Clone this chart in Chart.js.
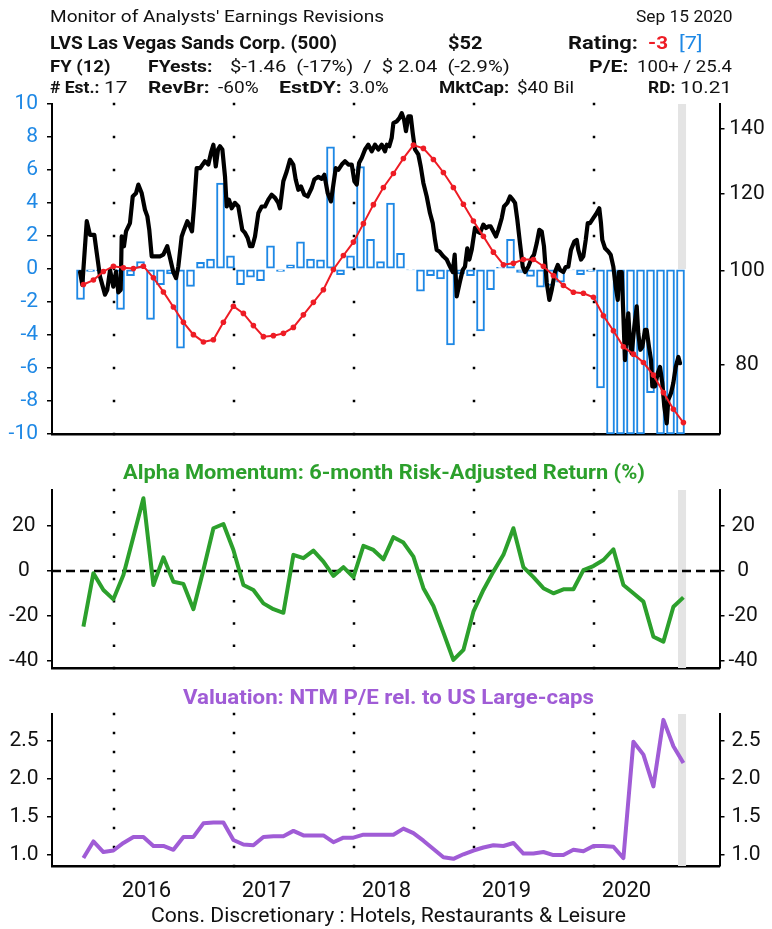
<!DOCTYPE html>
<html>
<head>
<meta charset="utf-8">
<script src="https://cdn.jsdelivr.net/npm/chart.js@4.4.1/dist/chart.umd.min.js"></script>
<style>
  html,body{margin:0;padding:0;background:#fff;}
  body{width:772px;height:929px;position:relative;overflow:hidden;font-family:Roboto,sans-serif;}
  canvas{position:absolute;left:0;top:0;}
  .t{position:absolute;white-space:pre;transform-origin:0 50%;}
</style>
</head>
<body>
<canvas id="c1" width="772" height="929"></canvas>
<canvas id="c2" width="772" height="929"></canvas>
<canvas id="c3" width="772" height="929"></canvas>
<script>
// ---------------- DATA ----------------
const firstYear = 2015, firstMonth = 9, monthCount = 61;   // Sep 2015 .. Sep 2020
const yearLines = [2016, 2017, 2018, 2019, 2020];
const yearTickPos = [2016.27, 2017.27, 2018.27, 2019.27, 2020.27];
const yearTickLabels = ['2016', '2017', '2018', '2019', '2020'];
const bandStart = 2020.70, bandEnd = 2020.767;

// monthly earnings revisions (blue bars, left axis)
const revisions = [-1.85,-0.15,-0.1,0,-2.45,-0.4,0.45,-3.05,-0.95,-0.3,
  -4.8,-1.05,0.4,0.6,5.2,0.8,-0.95,-0.5,-0.7,1.4,
  -0.15,0.25,1.65,0.6,0.55,7.4,-0.35,0.8,6.2,1.8,
  0.45,4.0,0.95,-0.05,-1.35,-0.4,-0.6,-4.6,-0.3,-0.4,
  -3.75,-1.25,0.1,1.8,-0.2,-0.45,-1.1,-1.0,-0.8,-0.05,
  -0.35,-0.15,-7.2,-10,-10,-10,-10,-7.5,-10,-10,-10];
// smoothed revision trend (red, left axis)
const revTrend = [-0.94,-0.67,-0.15,0.17,0.07,0.03,0.17,-0.53,-1.39,-2.30,
  -3.23,-3.98,-4.42,-4.29,-3.23,-2.26,-2.69,-3.43,-4.10,-4.04,
  -3.90,-3.54,-2.78,-2.02,-1.26,-0.03,0.82,1.63,2.75,3.90,
  4.94,5.79,6.70,7.51,7.31,6.64,5.85,4.94,3.92,2.91,
  1.98,1.02,0.26,0.35,0.58,0.58,0.17,-0.40,-1.00,-1.41,
  -1.47,-1.71,-2.83,-3.74,-4.71,-5.16,-5.67,-6.43,-7.49,-8.50,-9.31];
// alpha momentum (green)
const alpha = [-24.9,-1.0,-8.5,-12.7,-1.8,15.3,32.5,-6.3,6.1,-4.8,
  -5.8,-17.1,0.4,19.1,21.0,9.4,-6.3,-8.5,-14.5,-17.1,
  -18.7,7.2,5.7,9.1,4.2,-2.2,1.7,-2.8,11.2,9.4,
  5.2,15.1,12.7,6.4,-7.7,-15.7,-27.6,-39.8,-35.3,-18.2,
  -8.5,-0.3,7.2,19.1,1.7,-2.8,-7.7,-10.0,-8.2,-8.2,
  0.4,2.2,4.9,9.7,-6.3,-10.0,-13.7,-29.4,-31.6,-16.0,-11.8];
// relative NTM P/E (purple)
const valuation = [0.95,1.17,1.03,1.05,1.15,1.23,1.23,1.11,1.11,1.06,
  1.23,1.23,1.41,1.42,1.42,1.19,1.13,1.12,1.23,1.24,
  1.24,1.31,1.25,1.25,1.25,1.16,1.22,1.22,1.26,1.26,
  1.26,1.26,1.34,1.28,1.18,1.07,0.96,0.94,1.00,1.05,
  1.09,1.12,1.11,1.15,1.01,1.01,1.03,0.99,0.99,1.06,
  1.04,1.11,1.11,1.10,0.95,2.49,2.32,1.90,2.78,2.43,2.21];
// relative price (black, right log axis): [decimal year, value]
const priceSeries = [
[2015.717,99.7],[2015.736,96.7],[2015.773,112.5],[2015.80,108.9],[2015.836,108.9],[2015.856,104.4],[2015.883,98.7],[2015.925,94.5],[2015.944,95.6],[2015.967,100.2],
[2015.994,96.3],[2016.017,99.8],[2016.036,95.0],[2016.056,95.6],[2016.064,108.5],[2016.083,106.0],[2016.10,109.8],[2016.133,112.0],[2016.156,119.3],[2016.183,120.2],
[2016.203,122.7],[2016.231,120.2],[2016.258,115.6],[2016.278,113.8],[2016.294,110.2],[2016.314,103.5],[2016.342,103.5],[2016.383,103.5],[2016.411,103.9],[2016.444,106.0],
[2016.467,103.1],[2016.494,99.7],[2016.517,98.3],[2016.536,101.0],[2016.564,108.5],[2016.583,110.2],[2016.611,112.5],[2016.633,111.1],[2016.65,109.8],[2016.667,116.5],
[2016.689,127.6],[2016.717,127.6],[2016.758,129.7],[2016.786,128.7],[2016.808,132.3],[2016.828,134.9],[2016.848,128.1],[2016.867,133.4],[2016.883,134.4],[2016.903,133.4],
[2016.925,125.1],[2016.939,116.5],[2016.958,118.4],[2016.981,116.0],[2017.008,117.5],[2017.036,116.5],[2017.05,113.8],[2017.069,110.2],[2017.092,109.4],[2017.114,108.1],
[2017.133,106.0],[2017.153,106.0],[2017.175,108.5],[2017.203,114.7],[2017.231,116.5],[2017.258,116.5],[2017.286,118.4],[2017.314,119.8],[2017.342,118.9],[2017.369,117.5],
[2017.383,116.0],[2017.411,123.7],[2017.439,126.6],[2017.467,130.2],[2017.494,128.7],[2017.514,124.2],[2017.536,121.2],[2017.558,122.2],[2017.586,119.8],[2017.614,119.3],
[2017.648,121.8],[2017.669,124.2],[2017.703,125.0],[2017.731,124.4],[2017.753,125.6],[2017.781,120.2],[2017.808,117.9],[2017.828,122.7],[2017.848,127.6],[2017.869,127.1],
[2017.898,128.7],[2017.925,129.7],[2017.953,128.7],[2017.981,128.7],[2018.003,123.7],[2018.023,122.7],[2018.042,129.2],[2018.064,130.7],[2018.092,133.4],[2018.119,134.9],
[2018.148,132.8],[2018.175,134.9],[2018.203,133.4],[2018.231,134.9],[2018.258,132.8],[2018.273,134.9],[2018.294,134.4],[2018.314,137.1],[2018.328,142.0],[2018.356,142.6],
[2018.378,143.7],[2018.398,145.4],[2018.417,143.2],[2018.433,139.3],[2018.453,144.3],[2018.473,144.3],[2018.489,138.8],[2018.508,133.4],[2018.536,131.8],[2018.556,128.1],
[2018.578,123.2],[2018.606,119.3],[2018.633,114.7],[2018.656,112.0],[2018.675,107.6],[2018.689,105.1],[2018.711,104.7],[2018.744,103.5],[2018.773,102.7],[2018.80,101.0],
[2018.823,99.7],[2018.839,103.9],[2018.856,94.1],[2018.883,97.5],[2018.906,100.2],[2018.925,101.0],[2018.944,105.5],[2018.961,102.7],[2018.981,105.1],[2019.008,110.7],
[2019.028,109.8],[2019.05,109.4],[2019.078,111.6],[2019.10,110.7],[2019.119,111.1],[2019.139,111.1],[2019.161,109.8],[2019.183,108.5],[2019.203,110.2],[2019.231,113.3],
[2019.25,116.5],[2019.278,117.5],[2019.30,119.3],[2019.323,118.4],[2019.342,117.5],[2019.361,112.9],[2019.383,106.8],[2019.406,101.0],[2019.425,99.7],[2019.453,101.0],
[2019.481,103.1],[2019.50,103.9],[2019.523,106.8],[2019.544,110.2],[2019.564,109.8],[2019.583,106.0],[2019.606,97.2],[2019.628,93.3],[2019.648,95.6],[2019.675,99.7],
[2019.698,101.4],[2019.717,100.2],[2019.744,99.7],[2019.764,100.9],[2019.786,101.0],[2019.808,105.1],[2019.836,107.2],[2019.856,107.6],[2019.869,105.1],[2019.892,102.7],
[2019.911,103.5],[2019.931,107.6],[2019.948,112.0],[2019.967,112.0],[2019.994,113.3],[2020.023,114.7],[2020.044,116.0],[2020.058,112.0],[2020.069,107.6],[2020.092,105.5],
[2020.119,104.7],[2020.139,103.9],[2020.161,101.0],[2020.181,96.3],[2020.198,93.3],[2020.208,99.7],[2020.231,99.7],[2020.244,90.4],[2020.258,80.9],[2020.273,86.9],
[2020.286,90.4],[2020.30,84.2],[2020.314,82.2],[2020.336,87.6],[2020.356,91.9],[2020.369,86.2],[2020.386,82.9],[2020.403,83.5],[2020.425,86.9],[2020.439,86.9],
[2020.458,83.5],[2020.475,80.9],[2020.486,76.0],[2020.508,76.0],[2020.531,78.4],[2020.55,79.6],[2020.569,76.6],[2020.586,72.4],[2020.606,69.6],[2020.619,73.6],
[2020.642,74.8],[2020.661,76.6],[2020.681,79.6],[2020.703,81.5],[2020.717,80.3]];

const revTicks = [-10,-8,-6,-4,-2,0,2,4,6,8,10];
const priceTicks = [80,100,120,140];
const alphaTicks = [-40,-20,0,20];
const valTicks = [1.0,1.5,2.0,2.5];

// ---------------- STYLE ----------------
const BLUE = '#1e88e5', RED = '#ee1c25', GREEN = '#2ca02c', PURPLE = '#a05cd6', INK = '#111';
const XMIN = 2015.4833, XMAX = 2021.0458;
Chart.defaults.font.family = 'Roboto';
Chart.defaults.color = INK;

// month positions
const monthStart = k => firstYear + (firstMonth - 1 + k) / 12;
const barX = k => monthStart(k) + 0.65 / 12;
const lineX = k => monthStart(k) + 0.94 / 12;
const idx = Array.from({length: monthCount}, (_, k) => k);

function decor(nDots, opts) {
  return {
    id: 'decor',
    beforeDatasetsDraw(chart) {
      const {ctx, chartArea: {top, bottom, left, right}, scales} = chart;
      const x = scales.x, y = scales.y;
      ctx.save();
      const bx0 = x.getPixelForValue(bandStart), bx1 = x.getPixelForValue(bandEnd);
      const bBottom = opts.bandToZero ? y.getPixelForValue(0) : bottom;
      ctx.fillStyle = '#e4e4e4';
      ctx.fillRect(bx0, top, bx1 - bx0, bBottom - top);
      ctx.fillStyle = '#000';
      yearLines.forEach(yr => {
        const px = x.getPixelForValue(yr);
        for (let i = 0; i < nDots; i++) {
          const py = top + i * (bottom - top) / (nDots - 1);
          ctx.fillRect(px - 1.25, py - 1.25, 2.5, 2.5);
        }
      });
      if (opts.zeroLine) {
        const py = y.getPixelForValue(0);
        ctx.setLineDash([9, 5]);
        ctx.lineWidth = 2.5;
        ctx.strokeStyle = '#000';
        ctx.beginPath(); ctx.moveTo(left, py); ctx.lineTo(right, py); ctx.stroke();
      }
      ctx.restore();
    }
  };
}

function yAxis(pos, min, max, ticks, opts) {
  return Object.assign({
    type: 'linear', position: pos, min, max,
    afterBuildTicks: s => { s.ticks = ticks.map(v => ({value: v})); },
    afterFit: s => { s.width = pos === 'left' ? 52 : 52.5; },
    ticks: {
      color: opts.color || INK, font: {size: 21}, padding: opts.pad,
      crossAlign: opts.align || 'center',
      callback: opts.fmt || (v => String(v))
    },
    grid: {drawOnChartArea: false, drawTicks: true, tickLength: 5, color: '#000', lineWidth: 1.5},
    border: {display: true, color: '#000', width: 2}
  }, opts.extra || {});
}

function xAxis(showLabels) {
  return {
    type: 'linear', min: XMIN, max: XMAX, offset: false,
    afterBuildTicks: s => { s.ticks = yearTickPos.map(v => ({value: v})); },
    afterFit: s => { s.height = showLabels ? 40 : 0; },
    ticks: {display: showLabels, autoSkip: false, maxRotation: 0, font: {size: 22}, color: INK, padding: 12,
      callback: (v, i) => yearTickLabels[i]},
    grid: {display: false, drawTicks: false},
    border: {display: true, color: '#000', width: 2.5}
  };
}

const common = {
  animation: false, responsive: false, maintainAspectRatio: false,
  plugins: {legend: {display: false}, tooltip: {enabled: false}},
};

// ---------------- TOP PANEL ----------------
new Chart(document.getElementById('c1'), {
  type: 'bar',
  data: {datasets: [
    {type: 'line', data: idx.map(k => ({x: lineX(k), y: revTrend[k]})), yAxisID: 'y',
      borderColor: RED, backgroundColor: RED, borderWidth: 2, pointRadius: 2.8, pointBorderWidth: 0, tension: 0, order: 0},
    {type: 'line', data: priceSeries.map(p => ({x: p[0], y: p[1]})), yAxisID: 'y2',
      borderColor: '#000', borderWidth: 4.2, pointRadius: 0, tension: 0, order: 1, borderJoinStyle: 'round', borderCapStyle: 'round'},
    {type: 'bar', data: idx.map(k => ({x: barX(k), y: revisions[k]})), yAxisID: 'y',
      borderColor: BLUE, backgroundColor: '#fff', borderWidth: 2, barThickness: 8, borderSkipped: false, order: 2}
  ]},
  options: Object.assign({}, common, {
    layout: {padding: {top: 104, bottom: 929 - 434, left: 0, right: 0}},
    scales: {
      x: xAxis(false),
      y: yAxis('left', -10, 10, revTicks, {color: BLUE, pad: 9, align: 'near'}),
      y2: yAxis('right', 67.87, 148.6, priceTicks, {pad: 4.8, extra: {type: 'logarithmic'}})
    }
  }),
  plugins: [decor(11, {bandToZero: true})]
});

// ---------------- MIDDLE PANEL ----------------
new Chart(document.getElementById('c2'), {
  type: 'line',
  data: {datasets: [
    {data: idx.map(k => ({x: lineX(k), y: alpha[k]})), yAxisID: 'y',
      borderColor: GREEN, borderWidth: 4, pointRadius: 0, tension: 0, borderJoinStyle: 'round'}
  ]},
  options: Object.assign({}, common, {
    layout: {padding: {top: 490, bottom: 929 - 668, left: 0, right: 0}},
    scales: {
      x: xAxis(false),
      y: yAxis('left', -43.4, 36.2, alphaTicks, {pad: 8.5}),
      y2: yAxis('right', -43.4, 36.2, alphaTicks, {pad: 4})
    }
  }),
  plugins: [decor(9, {zeroLine: true})]
});

// ---------------- BOTTOM PANEL ----------------
new Chart(document.getElementById('c3'), {
  type: 'line',
  data: {datasets: [
    {data: idx.map(k => ({x: lineX(k), y: valuation[k]})), yAxisID: 'y',
      borderColor: PURPLE, borderWidth: 4, pointRadius: 0, tension: 0, borderJoinStyle: 'round'}
  ]},
  options: Object.assign({}, common, {
    layout: {padding: {top: 714, bottom: 929 - 866 - 40, left: 0, right: 0}},
    scales: {
      x: xAxis(true),
      y: yAxis('left', 0.845, 2.858, valTicks, {pad: 8.4, fmt: v => v.toFixed(1)}),
      y2: yAxis('right', 0.845, 2.858, valTicks, {pad: 6.9, fmt: v => v.toFixed(1)})
    }
  }),
  plugins: [decor(9, {})]
});

// ---------------- TEXT ----------------
const texts = [
  ["Monitor of Analysts' Earnings Revisions", 49.5, 17.5, 334, 16.5, 400, INK],
  ["Sep 15 2020", 636, 17.5, 96.5, 16.5, 400, INK],
  ["LVS Las Vegas Sands Corp. (500)", 49.5, 42.5, 287, 18.5, 700, INK],
  ["$52", 448, 42.5, 34.5, 18.5, 700, INK],
  ["Rating:", 568, 42.5, 70, 18.5, 700, INK],
  ["-3", 648, 42.5, 20, 18.5, 700, RED],
  ["[7]", 679, 42.5, 23.6, 18.5, 400, BLUE],
  ["FY (12)", 49.5, 65.8, 60.5, 17, 700, INK],
  ["FYests:", 148.4, 65.8, 64.4, 17, 700, INK],
  ["$-1.46  (-17%)  /  $ 2.04  (-2.9%)", 230, 65.8, 279.7, 17, 400, INK],
  ["P/E:", 589, 65.8, 39.4, 17, 700, INK],
  ["100+ / 25.4", 637, 65.8, 95, 17, 400, INK],
  ["# Est.:", 49.5, 87.5, 49.5, 17, 700, INK],
  ["17", 104, 87.5, 23.7, 17, 400, INK],
  ["RevBr:", 148.4, 87.5, 61.6, 17, 700, INK],
  ["-60%", 217.7, 87.5, 40.6, 17, 400, INK],
  ["EstDY:", 278.6, 87.5, 62.8, 17, 700, INK],
  ["3.0%", 348.8, 87.5, 39.6, 17, 400, INK],
  ["MktCap:", 439.4, 87.5, 70.3, 17, 700, INK],
  ["$40 Bil", 517, 87.5, 57, 17, 400, INK],
  ["RD:", 648, 87.5, 27.4, 17, 700, INK],
  ["10.21", 680.4, 87.5, 51.9, 17, 400, INK],
  ["Alpha Momentum: 6-month Risk-Adjusted Return (%)", 123, 472.5, 522, 21, 700, GREEN],
  ["Valuation: NTM P/E rel. to US Large-caps", 183, 697.5, 411, 21, 700, PURPLE],
  ["Cons. Discretionary : Hotels, Restaurants & Leisure", 151, 915.5, 475, 21, 400, INK]
];
const mctx = document.createElement('canvas').getContext('2d');
texts.forEach(([s, l, cy, w, size, wt, col]) => {
  mctx.font = `${wt} ${size}px Roboto`;
  const nat = mctx.measureText(s).width;
  const d = document.createElement('div');
  d.className = 't';
  d.textContent = s;
  d.style.left = l + 'px';
  d.style.top = (cy - 0.486 * size) + 'px';
  d.style.font = `${wt} ${size}px Roboto`;
  d.style.lineHeight = size + 'px';
  d.style.color = col;
  d.style.transform = `scaleX(${(w / nat).toFixed(4)})`;
  document.body.appendChild(d);
});
</script>
</body>
</html>
